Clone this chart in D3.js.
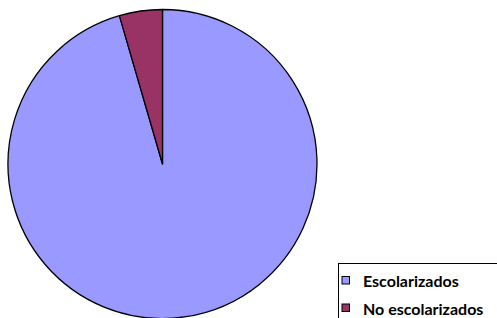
<!DOCTYPE html>
<html>
<head>
<meta charset="utf-8">
<script src="https://cdn.jsdelivr.net/npm/d3@7"></script>
<style>
  body { margin: 0; background: #fff; overflow: hidden; }
</style>
</head>
<body>
<script>
// Data
var categories = ['Escolarizados', 'No escolarizados'];
var values = [95.5, 4.5];
var colors = ['#9999FF', '#993366'];

var svgWidth = 497;
var svgHeight = 318;

var svg = d3.select('body')
    .append('svg')
    .attr('width', svgWidth)
    .attr('height', svgHeight);

var cx = 162.5, cy = 164, radius = 154.5;

// clockwise from 12 o'clock
var pie = d3.pie()
    .sort(null)
    .value(d => d);

var arc = d3.arc().innerRadius(0).outerRadius(radius);

var pieGroup = svg.append('g')
    .attr('transform', `translate(${cx}, ${cy})`);

pieGroup.selectAll('path')
    .data(pie(values))
    .enter()
    .append('path')
    .attr('d', arc)
    .attr('fill', (d, i) => colors[i])
    .attr('stroke', '#000')
    .attr('stroke-width', 1.3)
    .attr('stroke-linejoin', 'round');

// Legend
var legend = svg.append('g')
    .attr('transform', 'translate(338.5, 263.5)');

legend.append('rect')
    .attr('width', 170)
    .attr('height', 80)
    .attr('fill', '#fff')
    .attr('stroke', '#000')
    .attr('stroke-width', 1);

var items = legend.selectAll('.item')
    .data(categories)
    .enter()
    .append('g')
    .attr('transform', (d, i) => `translate(0, ${i * 27.5})`);

items.append('rect')
    .attr('x', 3.5)
    .attr('y', 13)
    .attr('width', 7.5)
    .attr('height', 7.5)
    .attr('fill', (d, i) => colors[i])
    .attr('stroke', '#000')
    .attr('stroke-width', 1);

items.append('text')
    .attr('x', 24.5)
    .attr('y', 23.5)
    .attr('font-family', 'Lato, sans-serif')
    .attr('font-weight', 'bold')
    .attr('font-size', '16px')
    .text(d => d);
</script>
</body>
</html>
